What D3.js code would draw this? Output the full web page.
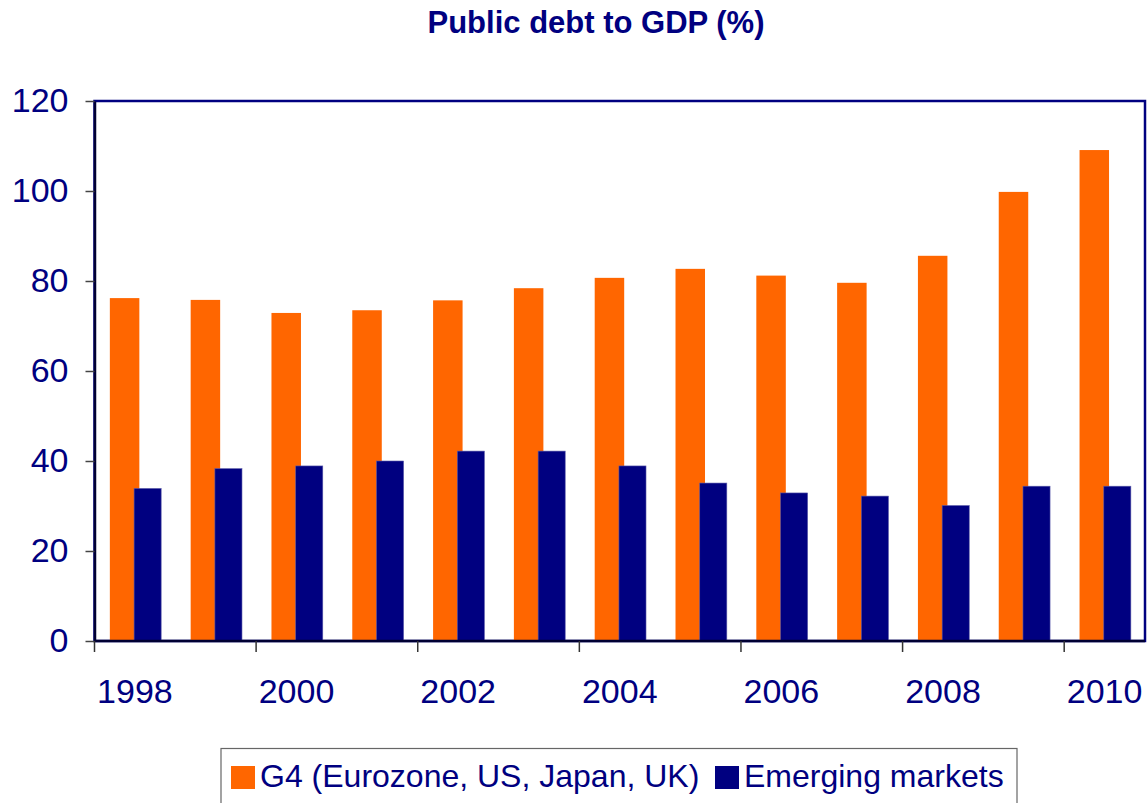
<!DOCTYPE html>
<html>
<head>
<meta charset="utf-8">
<script src="https://cdn.jsdelivr.net/npm/d3@7"></script>
<style>
  html, body { margin: 0; padding: 0; background: #fff; }
  svg { display: block; font-family: Arial, "Liberation Sans", sans-serif; }
</style>
</head>
<body>
<svg id="chart" width="1148" height="803"></svg>
<script>
// Public debt to GDP (%), 1998-2010
const years = [1998, 1999, 2000, 2001, 2002, 2003, 2004, 2005, 2006, 2007, 2008, 2009, 2010];
const g4Debt = [76.2, 75.8, 72.9, 73.5, 75.7, 78.4, 80.7, 82.7, 81.2, 79.6, 85.6, 99.8, 109.1];
const emergingDebt = [33.9, 38.3, 38.9, 40.0, 42.2, 42.2, 38.9, 35.1, 32.9, 32.2, 30.1, 34.4, 34.4];
const yTicks = [0, 20, 40, 60, 80, 100, 120];
const xLabelYears = [1998, 2000, 2002, 2004, 2006, 2008, 2010];
const seriesNames = ["G4 (Eurozone, US, Japan, UK)", "Emerging markets"];

const ORANGE = "#FF6600";
const NAVY = "#000080";

const svg = d3.select("#chart");
const plot = { left: 94.5, right: 1145, top: 101, bottom: 641 };

const x = d3.scaleBand()
  .domain(years)
  .range([plot.left, plot.right])
  .paddingInner(0)
  .paddingOuter(0);

const y = d3.scaleLinear()
  .domain([0, 120])
  .range([plot.bottom, plot.top]);

const bw = x.bandwidth();

// Title
svg.append("text")
  .attr("x", 596)
  .attr("y", 33)
  .attr("text-anchor", "middle")
  .attr("font-size", 31)
  .attr("font-weight", "bold")
  .attr("fill", NAVY)
  .text("Public debt to GDP (%)");

// Plot frame (top and right edges)
svg.append("rect")
  .attr("x", plot.left)
  .attr("y", plot.top)
  .attr("width", plot.right - plot.left)
  .attr("height", plot.bottom - plot.top)
  .attr("fill", "none")
  .attr("stroke", NAVY)
  .attr("stroke-width", 2.5);

// Bars: G4 first, emerging markets overlapping on top
svg.append("g").selectAll("rect")
  .data(years.map((yr, i) => ({ yr, v: g4Debt[i] })))
  .join("rect")
  .attr("x", d => x(d.yr) + bw * 0.19)
  .attr("width", bw * 0.365)
  .attr("y", d => y(d.v))
  .attr("height", d => y(0) - y(d.v))
  .attr("fill", ORANGE);

svg.append("g").selectAll("rect")
  .data(years.map((yr, i) => ({ yr, v: emergingDebt[i] })))
  .join("rect")
  .attr("x", d => x(d.yr) + bw * 0.49)
  .attr("width", bw * 0.335)
  .attr("y", d => y(d.v))
  .attr("height", d => y(0) - y(d.v))
  .attr("fill", NAVY)
  .attr("stroke", "#5a5aa8")
  .attr("stroke-width", 0.6);

// Y axis
const yAxis = svg.append("g")
  .attr("transform", `translate(${plot.left},0)`)
  .call(d3.axisLeft(y).tickValues(yTicks).tickSize(9).tickPadding(17).tickSizeOuter(0));
yAxis.select(".domain").attr("stroke", "#000033").attr("stroke-width", 2.5);
yAxis.selectAll(".tick line").attr("stroke", "#444").attr("stroke-width", 1.5);
yAxis.selectAll(".tick text")
  .attr("font-size", 34)
  .attr("font-family", "Arial, 'Liberation Sans', sans-serif")
  .attr("fill", NAVY);

// X axis: ticks at every second category boundary, labels under even years
const xAxisG = svg.append("g").attr("transform", `translate(0,${plot.bottom})`);
xAxisG.append("line")
  .attr("x1", plot.left).attr("x2", plot.right)
  .attr("y1", 0).attr("y2", 0)
  .attr("stroke", "#000033").attr("stroke-width", 2.5);

xAxisG.selectAll("line.tick")
  .data(xLabelYears)
  .join("line")
  .attr("class", "tick")
  .attr("x1", d => x(d)).attr("x2", d => x(d))
  .attr("y1", 0).attr("y2", 11)
  .attr("stroke", "#333").attr("stroke-width", 1.5);

xAxisG.selectAll("text")
  .data(xLabelYears)
  .join("text")
  .attr("x", d => x(d) + bw / 2)
  .attr("y", 62)
  .attr("text-anchor", "middle")
  .attr("font-size", 34)
  .attr("fill", NAVY)
  .text(d => d);

// Legend
const legend = svg.append("g");
legend.append("rect")
  .attr("x", 221).attr("y", 748.5)
  .attr("width", 796).attr("height", 70)
  .attr("fill", "#fff")
  .attr("stroke", "#666").attr("stroke-width", 1.2);

const legendItems = [
  { name: seriesNames[0], color: ORANGE, sx: 231, tx: 260 },
  { name: seriesNames[1], color: NAVY, sx: 715, tx: 744 }
];
legend.selectAll("rect.swatch")
  .data(legendItems)
  .join("rect")
  .attr("class", "swatch")
  .attr("x", d => d.sx).attr("y", 766)
  .attr("width", 24).attr("height", 23)
  .attr("fill", d => d.color);
legend.selectAll("text")
  .data(legendItems)
  .join("text")
  .attr("x", d => d.tx).attr("y", 787)
  .attr("font-size", 32)
  .attr("fill", NAVY)
  .text(d => d.name);
</script>
</body>
</html>
